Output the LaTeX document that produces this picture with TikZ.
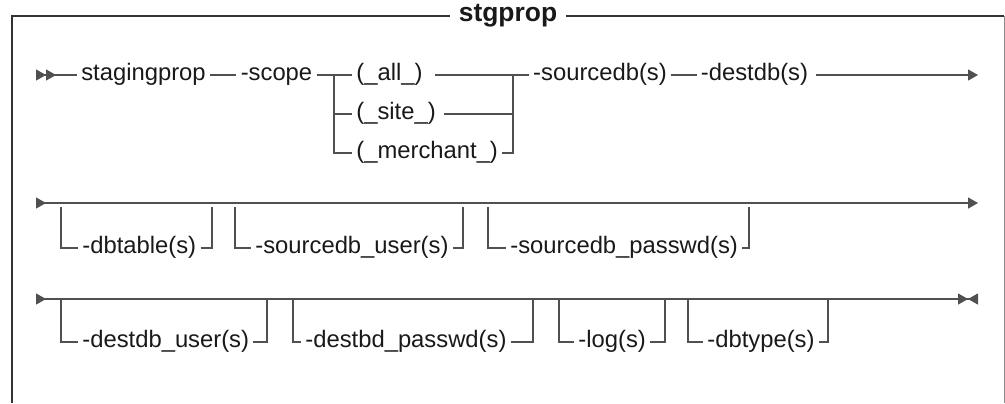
\documentclass[tikz,border=0pt]{standalone}
\usepackage{fontspec}
\setmainfont{Liberation Sans}
\usepackage{tikz}
\usetikzlibrary{positioning,arrows.meta}
\definecolor{railgray}{HTML}{505050}
\definecolor{framegray}{HTML}{333333}
\tikzset{
  rt/.tip     = {Triangle[length=5pt, width=5.5pt]},
  word/.style = {inner xsep=2pt, inner ysep=0pt, text height=1ex, text depth=0pt,
                 font=\fontsize{11.9}{14}\selectfont, text=black!90},
  opt/.style  = {word, anchor=west},
  title/.style = {word, inner xsep=4pt, font=\fontsize{13.2}{15}\selectfont\bfseries},
  rail/.style = {draw=railgray, line width=0.6pt},
  frame/.style = {draw=framegray, line width=1pt},
  side/.style = {draw=black!45, line width=0.5pt}
}

\begin{document}
\begin{tikzpicture}[x=0.5pt,y=-0.5pt]
    \useasboundingbox (0,0) rectangle (1005,403);
    % outer frame with the title set into its top edge
    \node[title] (ttl) at (508,16) {stgprop};
    \coordinate (bl) at (12,403);
    \coordinate (tl) at (12,16);
    \coordinate (tr) at (1004,16);
    \coordinate (br) at (1004,403);
    \draw[frame] (bl) -- (tl) -- (ttl.west);
    \draw[frame] (ttl.east) -- (tr);
    \draw[side] (tr) -- (br);

    % first line: command, scope choice, databases
    \coordinate (s1) at (36,75);
    \node[word] (stagingprop) at (143.5,75) {stagingprop};
    \node[word] (scope) at (276.5,75) {-scope};
    \coordinate (split) at (334,75);
    \node[opt] (all) at (352,75) {(\_all\_)};
    \node[opt] (site) at (352,114) {(\_site\_)};
    \node[opt] (merchant) at (352,153) {(\_merchant\_)};
    \coordinate (join) at (513,75);
    \node[word] (sourcedb) at (600,75) {-sourcedb(s)};
    \node[word] (destdb) at (754.5,75) {-destdb(s)};
    \coordinate (e1) at (978,75);
    \draw[rail, {rt[reversed]rt[reversed]}-] (s1) -- (stagingprop);
    \draw[rail] (stagingprop) -- (scope);
    \draw[rail] (scope) -- (all);
    \draw[rail] (split) |- (site.west);
    \draw[rail] (split) |- (merchant.west);
    \draw[rail, shorten <=4pt] (all) -- (join);
    \draw[rail] (join) -- (sourcedb);
    \draw[rail, shorten <=2pt] (site.east) -| (join);
    \draw[rail] (merchant.east) -| (join);
    \draw[rail] (sourcedb) -- (destdb);
    \draw[rail, -rt, shorten <=2pt] (destdb) -- (e1);

    % second line: optional table and source login
    \coordinate (s2) at (36,203);
    \coordinate (e2) at (978,203);
    \draw[rail, {rt[reversed]}-rt] (s2) -- (e2);
    \coordinate (dbtableL) at (61,207);
    \coordinate (dbtableR) at (212,207);
    \node[opt] (dbtable) at (78,248) {-dbtable(s)};
    \draw[rail] (dbtableL) |- (dbtable.west);
    \draw[rail] (dbtable.east) -| (dbtableR);
    \coordinate (suserL) at (235,207);
    \coordinate (suserR) at (463,207);
    \node[opt] (suser) at (251,248) {-sourcedb\_user(s)};
    \draw[rail] (suserL) |- (suser.west);
    \draw[rail] (suser.east) -| (suserR);
    \coordinate (spassL) at (488,207);
    \coordinate (spassR) at (749,207);
    \node[opt] (spass) at (506,248) {-sourcedb\_passwd(s)};
    \draw[rail] (spassL) |- (spass.west);
    \draw[rail] (spass.east) -| (spassR);

    % third line: target login, log and db type
    \coordinate (s3) at (36,299);
    \coordinate (e3) at (978,299);
    \draw[rail, {rt[reversed]}-{rt[]rt[reversed]}] (s3) -- (e3);
    \coordinate (duserL) at (61,299);
    \coordinate (duserR) at (267,299);
    \node[opt] (duser) at (78,342) {-destdb\_user(s)};
    \draw[rail] (duserL) |- (duser.west);
    \draw[rail] (duser.east) -| (duserR);
    \coordinate (dpassL) at (293,299);
    \coordinate (dpassR) at (533,299);
    \node[opt] (dpass) at (301,342) {-destbd\_passwd(s)};
    \draw[rail] (dpassL) |- (dpass.west);
    \draw[rail] (dpass.east) -| (dpassR);
    \coordinate (logL) at (559,299);
    \coordinate (logR) at (665,299);
    \node[opt] (log) at (574,342) {-log(s)};
    \draw[rail] (logL) |- (log.west);
    \draw[rail] (log.east) -| (logR);
    \coordinate (dbtypeL) at (688,299);
    \coordinate (dbtypeR) at (828,299);
    \node[opt] (dbtype) at (703,342) {-dbtype(s)};
    \draw[rail] (dbtypeL) |- (dbtype.west);
    \draw[rail] (dbtype.east) -| (dbtypeR);
  \end{tikzpicture}
\end{document}
